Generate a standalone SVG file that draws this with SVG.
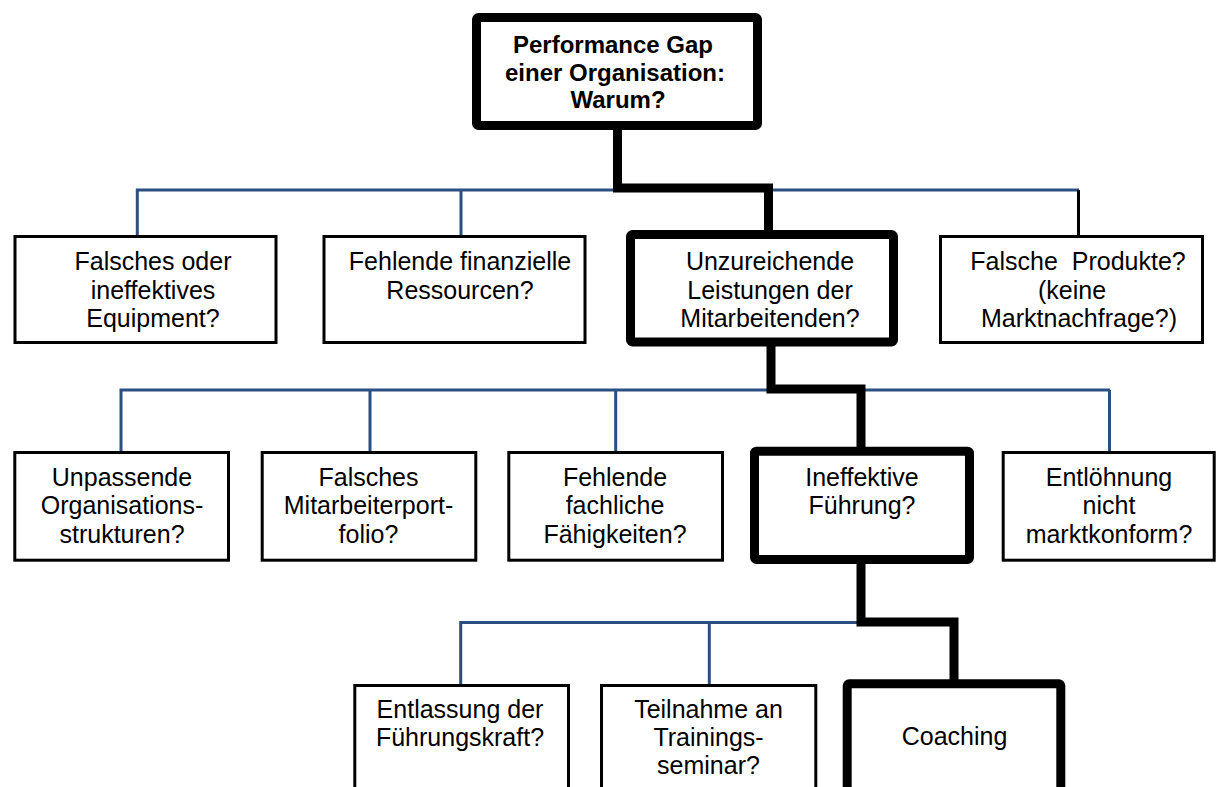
<svg xmlns="http://www.w3.org/2000/svg" width="1216" height="787" viewBox="0 0 1216 787">
<style>
.thin{fill:#fff;stroke:#000;stroke-width:3}
.thick{fill:#fff;stroke:#000;stroke-width:9}
.blue{fill:none;stroke:#2B4F81;stroke-width:3}
.blk{fill:none;stroke:#000;stroke-width:3}
.path{fill:none;stroke:#000;stroke-width:9;stroke-linejoin:miter;stroke-linecap:butt}
text{font-family:"Liberation Sans",Arial,sans-serif;font-size:25px;fill:#000;text-anchor:middle}
.b{font-weight:bold;font-size:24px}
</style>
<rect width="1216" height="787" fill="#fff"/>
<g id="connectors">
<path class="blue" d="M137.3,235 V190 H1079 M461,190 V235"/>
<path class="blk" d="M1078.5,190 V235"/>
<path class="blue" d="M121,451 V390 H1110 M370,390 V451 M615.7,390 V451 M1109.5,390 V451"/>
<path class="blue" d="M460.7,684 V622.5 H861 M709.3,622.5 V684"/>
<path class="path" d="M617.5,126 V188 H768.5 V235"/>
<path class="path" d="M771,342 V389 H861 V452"/>
<path class="path" d="M861,560 V622 H954 V684"/>
</g>
<g id="n0"><rect class="thick" x="476.5" y="17.5" width="281" height="108" rx="2"/>
<text class="b" x="613" y="53">Performance Gap</text>
<text class="b" x="615" y="80.5">einer Organisation:</text>
<text class="b" x="618" y="108">Warum?</text></g>
<g id="n1"><rect class="thin" x="15" y="236.5" width="261" height="106"/>
<text x="153" y="270">Falsches oder</text><text x="153" y="298.5">ineffektives</text><text x="153" y="327">Equipment?</text></g>
<g id="n2"><rect class="thin" x="324" y="236.5" width="261" height="106"/>
<text x="460" y="270">Fehlende finanzielle</text><text x="460" y="298.5">Ressourcen?</text></g>
<g id="n3"><rect class="thick" x="630.5" y="234.5" width="263" height="107.5" rx="2"/>
<text x="770" y="270">Unzureichende</text><text x="770" y="298.5">Leistungen der</text><text x="770" y="327">Mitarbeitenden?</text></g>
<g id="n4"><rect class="thin" x="940.5" y="236.5" width="262" height="106"/>
<text x="1078" y="270" xml:space="preserve">Falsche  Produkte?</text><text x="1072" y="298.5">(keine</text><text x="1079" y="327">Marktnachfrage?)</text></g>
<g id="n5"><rect class="thin" x="14.8" y="452.5" width="213.7" height="107.7"/>
<text x="122" y="486">Unpassende</text><text x="122" y="514">Organisations-</text><text x="122" y="543">strukturen?</text></g>
<g id="n6"><rect class="thin" x="262.2" y="452.5" width="213.6" height="107.7"/>
<text x="368.5" y="486">Falsches</text><text x="368.5" y="514">Mitarbeiterport-</text><text x="368.5" y="543">folio?</text></g>
<g id="n7"><rect class="thin" x="508.8" y="452.5" width="213.7" height="107.7"/>
<text x="615" y="486">Fehlende</text><text x="615" y="514">fachliche</text><text x="615" y="543">Fähigkeiten?</text></g>
<g id="n8"><rect class="thick" x="754.5" y="451.2" width="215" height="108.3" rx="2"/>
<text x="862" y="486">Ineffektive</text><text x="862" y="514">Führung?</text></g>
<g id="n9"><rect class="thin" x="1003.2" y="452.5" width="211" height="107.7"/>
<text x="1109" y="486">Entlöhnung</text><text x="1109" y="514">nicht</text><text x="1109" y="543">marktkonform?</text></g>
<g id="n10"><rect class="thin" x="354.8" y="685.5" width="213.7" height="120"/>
<text x="460" y="717.7">Entlassung der</text><text x="460" y="746">Führungskraft?</text></g>
<g id="n11"><rect class="thin" x="601.5" y="685.5" width="214.3" height="120"/>
<text x="708.5" y="717.7">Teilnahme an</text><text x="708.5" y="746">Trainings-</text><text x="708.5" y="774.3">seminar?</text></g>
<g id="n12"><rect class="thick" x="847.2" y="683.8" width="213.6" height="120" rx="2"/>
<text x="954.5" y="745">Coaching</text></g>
</svg>
